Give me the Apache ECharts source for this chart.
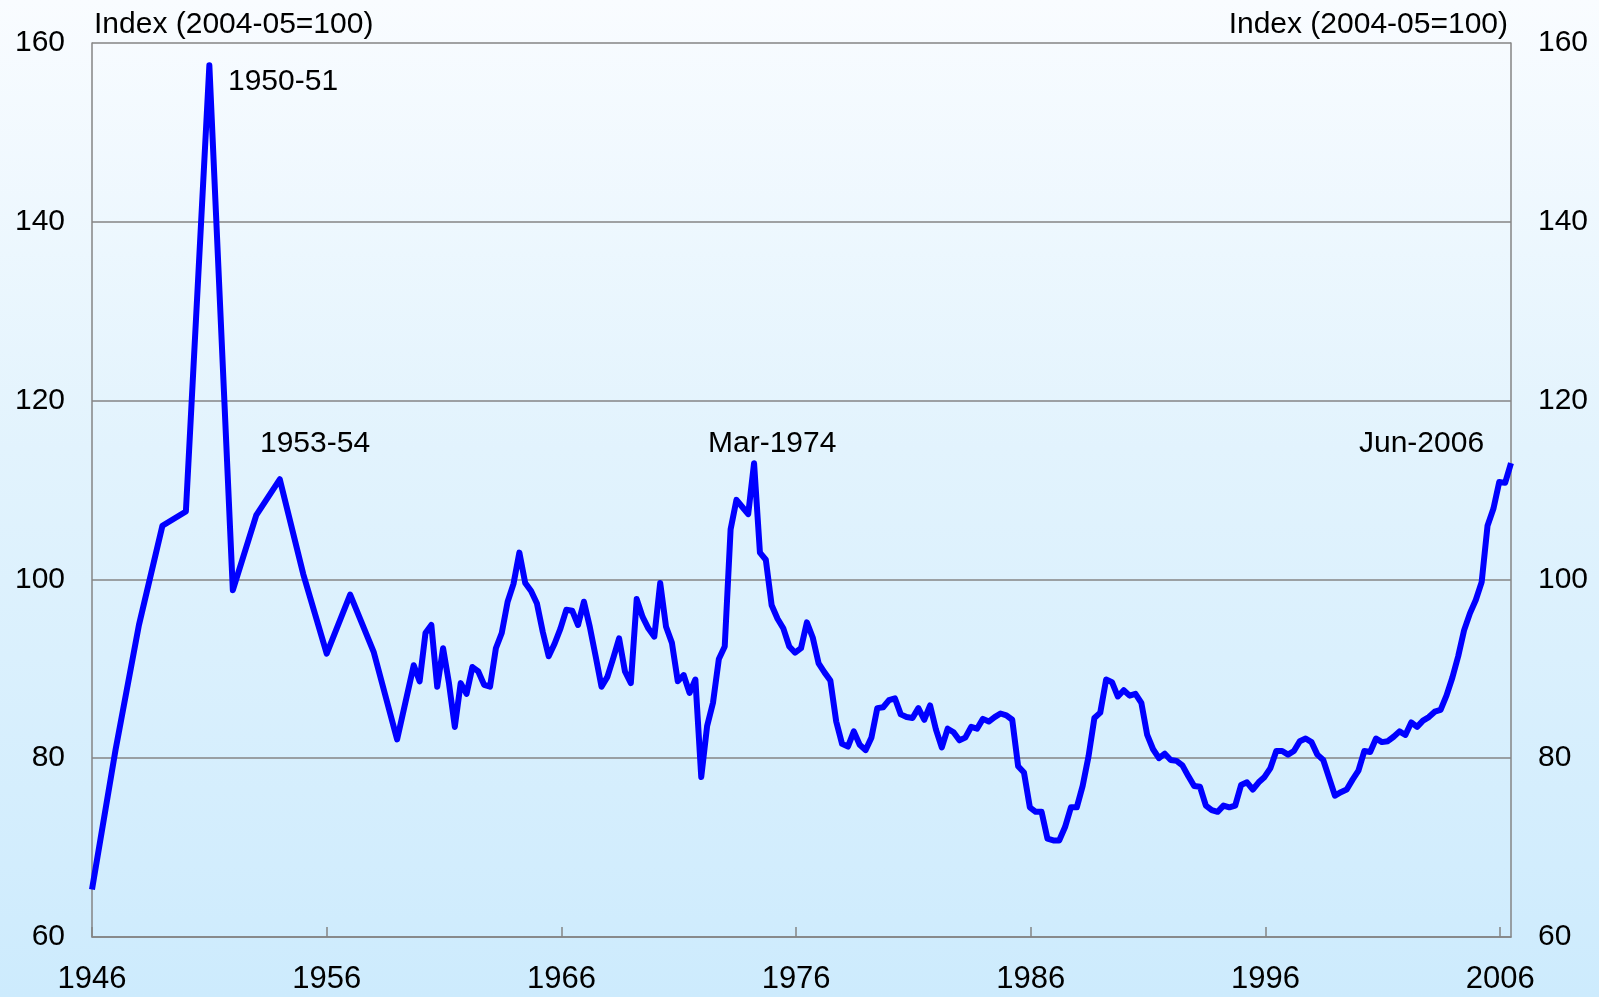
<!DOCTYPE html>
<html>
<head>
<meta charset="utf-8">
<script src="https://cdn.jsdelivr.net/npm/echarts@6/dist/echarts.min.js"></script>
<style>
  html, body { margin: 0; padding: 0; }
  #chart {
    width: 1599px; height: 997px;
    background: linear-gradient(to bottom, #f9fcff 0%, #e2f3fd 45%, #cdebfd 100%);
  }
</style>
</head>
<body>
<div id="chart"></div>
<script>
  // financial-year points (1945-46 .. 1958-59), plotted at the end year
  var annualYears = [1946, 1947, 1948, 1949, 1950, 1951, 1952, 1953, 1954, 1955, 1956, 1957, 1958, 1959]
  var annualValues = [65.3, 80.9, 94.9, 106.0, 107.6, 157.5, 98.8, 107.2, 111.2, 100.6, 91.7, 98.3, 91.9, 82.1]

  // quarterly points, Sep-1959 .. Jun-2006
  var quarterStartYear = 1959
  var quarterStartMonth = 9
  var quarterValues = [
    90.4, 88.6, 94.0, 94.9, 88.0, 92.3, 88.4, 83.5, 88.4, 87.2,
    90.2, 89.7, 88.2, 88.0, 92.3, 94.0, 97.5, 99.5, 103.0, 99.6,
    98.7, 97.3, 94.1, 91.4, 92.8, 94.5, 96.6, 96.5, 94.9, 97.5,
    94.7, 91.4, 88.0, 89.1, 91.2, 93.4, 89.7, 88.4, 97.8, 95.8,
    94.5, 93.6, 99.6, 94.7, 92.9, 88.6, 89.3, 87.3, 88.8, 77.9,
    83.6, 86.2, 91.1, 92.5, 105.6, 108.9, 108.1, 107.3, 113.0, 103.0,
    102.2, 97.1, 95.6, 94.5, 92.5, 91.8, 92.3, 95.2, 93.5, 90.6,
    89.6, 88.7, 84.1, 81.6, 81.3, 83.0, 81.5, 80.9, 82.3, 85.6,
    85.7, 86.5, 86.7, 84.9, 84.6, 84.5, 85.6, 84.3, 85.9, 83.2,
    81.2, 83.3, 82.9, 82.0, 82.3, 83.5, 83.3, 84.4, 84.1, 84.6,
    85.0, 84.8, 84.3, 79.1, 78.4, 74.5, 74.0, 74.0, 71.0, 70.8,
    70.8, 72.3, 74.5, 74.5, 76.9, 80.2, 84.5, 85.1, 88.8, 88.5,
    86.9, 87.6, 87.0, 87.2, 86.2, 82.6, 81.0, 80.0, 80.5, 79.8,
    79.7, 79.2, 78.0, 76.9, 76.8, 74.7, 74.2, 74.0, 74.7, 74.5,
    74.7, 77.0, 77.3, 76.5, 77.3, 77.9, 78.9, 80.8, 80.8, 80.4,
    80.8, 81.9, 82.2, 81.8, 80.4, 79.8, 77.8, 75.8, 76.2, 76.5,
    77.6, 78.6, 80.8, 80.7, 82.2, 81.8, 81.9, 82.4, 83.0, 82.6,
    84.0, 83.5, 84.2, 84.6, 85.2, 85.4, 87.0, 89.0, 91.4, 94.3,
    96.2, 97.7, 99.7, 106.0, 107.9, 110.9, 110.8, 113.0
  ]

  var yTicks = [60, 80, 100, 120, 140, 160]
  var xTickYears = [1946, 1956, 1966, 1976, 1986, 1996, 2006]

  var notes = [
    { text: '1950-51', x: 228, y: 82 },
    { text: '1953-54', x: 260, y: 444 },
    { text: 'Mar-1974', x: 708, y: 444 },
    { text: 'Jun-2006', x: 1359, y: 444 }
  ]

  // build [x, y] pairs; quarter plotted at middle of its last month
  var points = []
  annualYears.forEach(function (yr, i) {
    points.push([yr, annualValues[i]])
  })
  quarterValues.forEach(function (v, i) {
    var m = quarterStartMonth + 3 * i
    var yr = quarterStartYear + Math.floor((m - 1) / 12)
    var mm = ((m - 1) % 12) + 1
    points.push([yr + (mm - 0.5) / 12, v])
  })
  var lastX = points[points.length - 1][0]

  var font = 'Liberation Sans, Arial, sans-serif'
  var gray = '#848484'

  var chart = echarts.init(document.getElementById('chart'), null, { renderer: 'canvas' })

  var yAxisBase = {
    type: 'value',
    min: yTicks[0],
    max: yTicks[yTicks.length - 1],
    interval: yTicks[1] - yTicks[0],
    axisTick: { show: false },
    axisLine: { show: true, lineStyle: { color: gray, width: 1.5 } },
    axisLabel: { color: '#000', fontSize: 30, fontFamily: font, margin: 27 }
  }

  var option = {
    backgroundColor: 'transparent',
    animation: false,
    grid: { left: 92, right: 88, top: 43, bottom: 60 },
    xAxis: {
      type: 'value',
      min: xTickYears[0],
      max: lastX,
      interval: xTickYears[1] - xTickYears[0],
      splitLine: { show: false },
      axisLine: { lineStyle: { color: gray, width: 1.5 } },
      axisTick: { inside: true, length: 10, lineStyle: { color: gray, width: 1.5 } },
      axisLabel: {
        color: '#000', fontSize: 31, fontFamily: font, margin: 27,
        showMaxLabel: false,
        formatter: function (v) { return Math.round(v) === v ? String(v) : '' }
      }
    },
    yAxis: [
      Object.assign({}, yAxisBase, {
        position: 'left',
        splitLine: { show: true, lineStyle: { color: gray, width: 1.5 } }
      }),
      Object.assign({}, yAxisBase, {
        position: 'right',
        splitLine: { show: false }
      })
    ],
    series: [{
      type: 'line',
      data: points,
      showSymbol: false,
      lineStyle: { color: '#0000ff', width: 6, join: 'round' },
      clip: false
    }],
    graphic: [
      {
        type: 'text',
        style: { text: 'Index (2004-05=100)', x: 94, y: 25, font: '30px ' + font, fill: '#000', textAlign: 'left', textVerticalAlign: 'middle' }
      },
      {
        type: 'text',
        style: { text: 'Index (2004-05=100)', x: 1508, y: 25, font: '30px ' + font, fill: '#000', textAlign: 'right', textVerticalAlign: 'middle' }
      }
    ].concat(notes.map(function (n) {
      return {
        type: 'text',
        style: { text: n.text, x: n.x, y: n.y, font: '30px ' + font, fill: '#000', textAlign: 'left', textVerticalAlign: 'middle' }
      }
    }))
  }

  chart.setOption(option)
</script>
</body>
</html>
